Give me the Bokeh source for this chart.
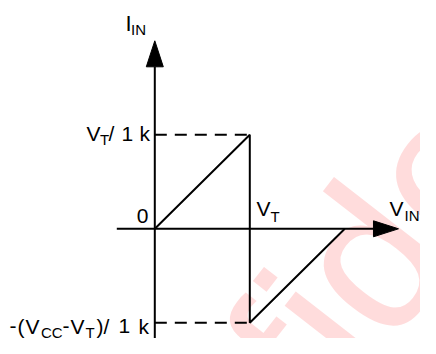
import math
from bokeh.plotting import figure
from bokeh.models import Range1d
from bokeh.core.properties import value
from bokeh.embed import file_html
from bokeh.resources import INLINE

# ---- data (V_IN in units of V_T, I_IN in units of V_T/1k) ----
vin = [0.0, 1.0, 1.0, 2.0]
iin = [0.0, 1.0, -1.0, 0.0]
level_values = [1.0, -1.0]          # V_T/1k and -(V_CC-V_T)/1k
level_vin = [1.0, 1.0]              # dashed guides end at V_T
x_axis_extent = [-0.40, 2.565]      # horizontal axis (tip of arrow at end)
y_axis_extent = [-1.40, 2.00]       # vertical axis (tip of arrow at end)

# ---- layout: canvas-pixel geometry ----
W, H = 420, 338
X0_PX, Y0_PX = 154.3, 228.3          # canvas position of origin
SX, SY = 95.0, 94.0                  # px per unit
BASE_FIX = 0.35                      # em shift so small-label baselines land where wanted

def dx(px):
    return (px - X0_PX) / SX

def dy(py):
    return (Y0_PX - py) / SY

p = figure(width=W, height=H, output_backend="svg", toolbar_location=None,
           x_range=Range1d(dx(0), dx(W)),
           y_range=Range1d(dy(H), dy(0)),
           min_border=0)
p.axis.visible = False
p.grid.visible = False
p.outline_line_color = None
p.background_fill_color = "white"
p.border_fill_color = "white"

FONT = "Liberation Sans"

# watermark "Confidential" (split at the 'd' so the anchor sits on the canvas)
WM_ANGLE, WM_FS, WM_COLOR = 0.91, 205, "#ffdcdc"
shift = 0.28 * WM_FS
ax_px = 378 - math.sin(WM_ANGLE) * shift
ay_px = 338 - math.cos(WM_ANGLE) * shift
for txt, al in (("Confi", "right"), ("dential", "left")):
    p.text(x=[dx(ax_px)], y=[dy(ay_px)], text=[txt], angle=WM_ANGLE, text_font=value(FONT),
           text_font_size=f"{WM_FS}px", text_color=WM_COLOR, text_align=al,
           text_baseline="alphabetic")

# axes
HEAD_L_V, HEAD_W_V = 26, 17
HEAD_L_H, HEAD_W_H = 25, 16
p.line([0, 0], [y_axis_extent[0], y_axis_extent[1] - HEAD_L_V / SY], line_color="black", line_width=2)
p.line([x_axis_extent[0], x_axis_extent[1] - HEAD_L_H / SX], [0, 0], line_color="black", line_width=2)
p.patch([-HEAD_W_V / 2 / SX, HEAD_W_V / 2 / SX, 0],
        [y_axis_extent[1] - HEAD_L_V / SY, y_axis_extent[1] - HEAD_L_V / SY, y_axis_extent[1]],
        fill_color="black", line_color="black", line_width=1)
p.patch([x_axis_extent[1] - HEAD_L_H / SX, x_axis_extent[1] - HEAD_L_H / SX, x_axis_extent[1]],
        [HEAD_W_H / 2 / SY, -HEAD_W_H / 2 / SY, 0],
        fill_color="black", line_color="black", line_width=1)

# dashed guides
for lv, lx in zip(level_values, level_vin):
    p.line([0, lx], [lv, lv], line_color="black", line_width=2, line_dash="12 8")

# characteristic
p.line(vin, iin, line_color="black", line_width=2)

# labels: (text, x, baseline y, size, align) in canvas px
M, S = 21, 15
pieces = [
    ("I", 125, 30.5, 22, "left"), ("IN", 130.5, 34.5, S, "left"),
    ("V", 86, 140.5, M, "left"), ("T", 99.5, 144, S, "left"), ("/", 108, 140.5, M, "left"),
    ("1", 121, 140.5, M, "left"), ("k", 149.5, 140.5, M, "right"),
    ("0", 148, 223, M, "right"),
    ("V", 256, 215, M, "left"), ("T", 270, 221, S, "left"),
    ("V", 389, 215, M, "left"), ("IN", 404, 220, S, "left"),
    ("-", 9, 333, M, "left"), ("(", 17, 333, M, "left"), ("V", 25, 333, M, "left"),
    ("CC", 40.5, 337, S, "left"), ("-", 62, 333, M, "left"), ("V", 70, 333, M, "left"),
    ("T", 85, 337, S, "left"), (")", 96, 333, M, "left"), ("/", 103, 333, M, "left"),
    ("1", 118, 333, M, "left"), ("k", 148.5, 333, M, "right"),
]
for t, px, py, fs, al in pieces:
    p.text(x=[dx(px)], y=[dy(py - BASE_FIX * fs)], text=[t], text_font=value(FONT),
           text_font_size=f"{fs}px", text_color="black",
           text_align=al, text_baseline="alphabetic")

open("out.html", "w").write(file_html(p, INLINE))
